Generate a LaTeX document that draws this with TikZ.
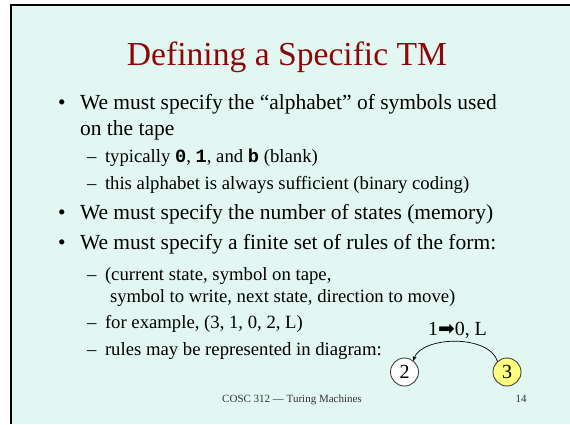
\documentclass[tikz,border=0pt]{standalone}
\usepackage{fontspec}
\setmainfont{Liberation Serif}
\setmonofont{Liberation Mono}
\newfontfamily\symfont{DejaVu Sans}
\usetikzlibrary{arrows.meta}

\definecolor{slidebg}{RGB}{226,247,242}
\definecolor{titlered}{RGB}{140,8,8}
\definecolor{stateyellow}{RGB}{255,255,128}
\definecolor{footgray}{RGB}{50,50,50}

\begin{document}
\begin{tikzpicture}[x=1pt,y=-1pt,
  every node/.style={inner sep=0pt, outer sep=0pt},
  maintext/.style={anchor=base west, font=\fontsize{21.5}{26}\selectfont},
  subtext/.style={anchor=base west, font=\fontsize{18.7}{22}\selectfont},
  bulletsym/.style={anchor=base west, font=\fontsize{21.5}{26}\selectfont},
  dashsym/.style={anchor=base west, font=\fontsize{18.7}{22}\selectfont},
  state/.style={circle, draw=black!75, line width=0.9pt, minimum size=28pt,
    font=\fontsize{20}{22}\selectfont},
  footer/.style={anchor=base, text=footgray, font=\fontsize{11}{13}\selectfont},
  transition/.style={line width=0.7pt, -{Stealth[length=5pt,width=4pt]}}
]
\useasboundingbox (0,0) rectangle (570,424);

% slide background and frame
\fill[slidebg] (11,5) rectangle (570,424);
\draw[line width=2pt] (11,424) -- (11,5) -- (570,5);

% title
\node[anchor=base, text=titlered, font=\fontsize{33.6}{40}\selectfont] (title) at (287,65) {Defining a Specific TM};

% first bullet
\node[bulletsym] (bu1) at (58,109) {•};
\node[maintext] (t1a) at (80,109) {We must specify the “alphabet” of symbols used};
\node[maintext] (t1b) at (80,135) {on the tape};
\node[dashsym] (d11) at (87,162) {–};
\node[subtext] (t11) at (105,162) {typically {\ttfamily\bfseries 0}, {\ttfamily\bfseries 1}, and {\ttfamily\bfseries b} (blank)};
\node[dashsym] (d12) at (87,189) {–};
\node[subtext] (t12) at (105,189) {this alphabet is always sufficient (binary coding)};

% second bullet
\node[bulletsym] (bu2) at (58,219) {•};
\node[maintext] (t2) at (80,219) {We must specify the number of states (memory)};

% third bullet
\node[bulletsym] (bu3) at (58,249) {•};
\node[maintext] (t3) at (80,249) {We must specify a finite set of rules of the form:};
\node[dashsym] (d31) at (87,280) {–};
\node[subtext] (t31a) at (105,280) {(current state, symbol on tape,};
\node[subtext] (t31b) at (110,302) {symbol to write, next state, direction to move)};
\node[dashsym] (d32) at (87,328) {–};
\node[subtext] (t32) at (105,328) {for example, (3, 1, 0, 2, L)};
\node[dashsym] (d33) at (87,355) {–};
\node[subtext] (t33) at (105,355) {rules may be represented in diagram:};

% state diagram
\node[state, fill=white] (s2) at (404.5,372) {2};
\node[state, fill=stateyellow] (s3) at (507,372) {3};
\draw[transition] (s3.132) .. controls (489,334) and (422,336) .. (s2.52);
\node[anchor=base west, font=\fontsize{20}{24}\selectfont] (lab) at (428,335) {1{\symfont\fontsize{20}{24}\selectfont ➡}0, L};

% footer
\node[footer] (foot) at (292,402) {COSC 312 — Turing Machines};
\node[footer] (page) at (521,402) {14};
\end{tikzpicture}
\end{document}
